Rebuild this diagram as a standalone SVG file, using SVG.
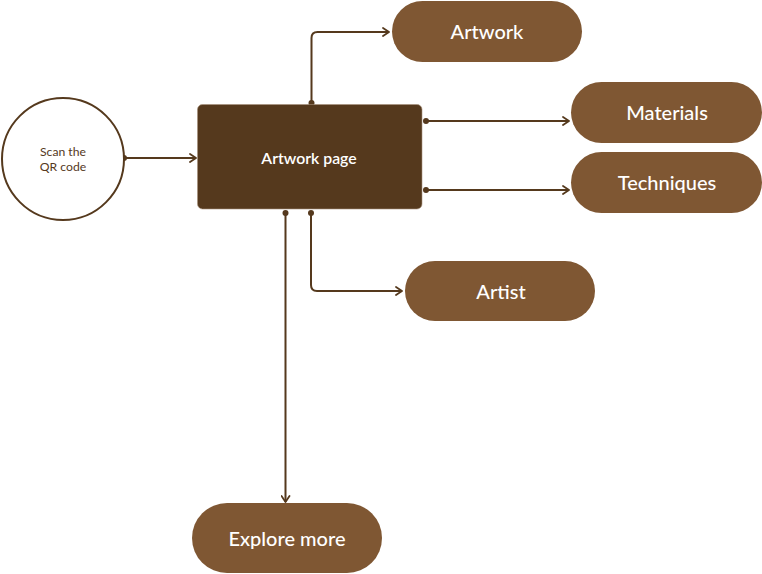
<svg xmlns="http://www.w3.org/2000/svg" width="762" height="574" viewBox="0 0 762 574">
<defs>
<style>
.pill{fill:#7f5733;}
.lbl{font-family:Lato,"Liberation Sans",sans-serif;fill:#ffffff;text-anchor:middle;dominant-baseline:central;}
.big{font-size:20px;font-weight:500;}
.edge{fill:none;stroke:#55391d;stroke-width:2;}
.dot{fill:#55391d;}
</style>
<marker id="arr" viewBox="0 0 10 10" refX="9" refY="5" markerWidth="10" markerHeight="10" markerUnits="userSpaceOnUse" orient="auto">
<path d="M3,1 L9,5 L3,9" fill="none" stroke="#55391d" stroke-width="1.8" stroke-linecap="round" stroke-linejoin="round"/>
</marker>
</defs>
<rect width="762" height="574" fill="#ffffff"/>
<g id="connectors">
<path class="edge" d="M124,158 L196,158" marker-end="url(#arr)"/>
<circle class="dot" cx="124" cy="158" r="3"/>
<path class="edge" d="M311.5,103 L311.5,38 Q311.5,32 317.5,32 L389,32" marker-end="url(#arr)"/>
<circle class="dot" cx="311.5" cy="103" r="3"/>
<path class="edge" d="M426,121 L569,121" marker-end="url(#arr)"/>
<circle class="dot" cx="426" cy="121" r="3"/>
<path class="edge" d="M426,190 L569,190" marker-end="url(#arr)"/>
<circle class="dot" cx="426" cy="190" r="3"/>
<path class="edge" d="M311,213 L311,285 Q311,291 317,291 L402,291" marker-end="url(#arr)"/>
<circle class="dot" cx="311" cy="213" r="3"/>
<path class="edge" d="M285.5,213 L285.5,502" marker-end="url(#arr)"/>
<circle class="dot" cx="285.5" cy="213" r="3"/>
</g>
<g id="scan">
<circle cx="63" cy="159" r="61" fill="#ffffff" stroke="#55391d" stroke-width="2"/>
<text font-family="Lato,'Liberation Sans',sans-serif" font-size="12.2" fill="#55391d" text-anchor="middle"><tspan x="63" y="156">Scan the</tspan><tspan x="63" y="170.5">QR code</tspan></text>
</g>
<g id="artwork-page">
<rect x="197.5" y="104.5" width="224.5" height="104.5" rx="5" fill="#55391d" stroke="#a8927c" stroke-width="0.6"/>
<text class="lbl" x="309" y="157" font-size="15.8" font-weight="600">Artwork page</text>
</g>
<g id="artwork">
<rect class="pill" x="392" y="1" width="190" height="61" rx="30.5"/>
<text class="lbl big" x="487" y="31">Artwork</text>
</g>
<g id="materials">
<rect class="pill" x="571" y="82" width="191" height="61" rx="30.5"/>
<text class="lbl big" x="667" y="112">Materials</text>
</g>
<g id="techniques">
<rect class="pill" x="571" y="152" width="191" height="61" rx="30.5"/>
<text class="lbl big" x="667" y="182">Techniques</text>
</g>
<g id="artist">
<rect class="pill" x="405" y="261" width="190" height="60" rx="30"/>
<text class="lbl big" x="501" y="291">Artist</text>
</g>
<g id="explore-more">
<rect class="pill" x="192" y="503" width="190" height="70" rx="35"/>
<text class="lbl big" x="287" y="538">Explore more</text>
</g>
</svg>
